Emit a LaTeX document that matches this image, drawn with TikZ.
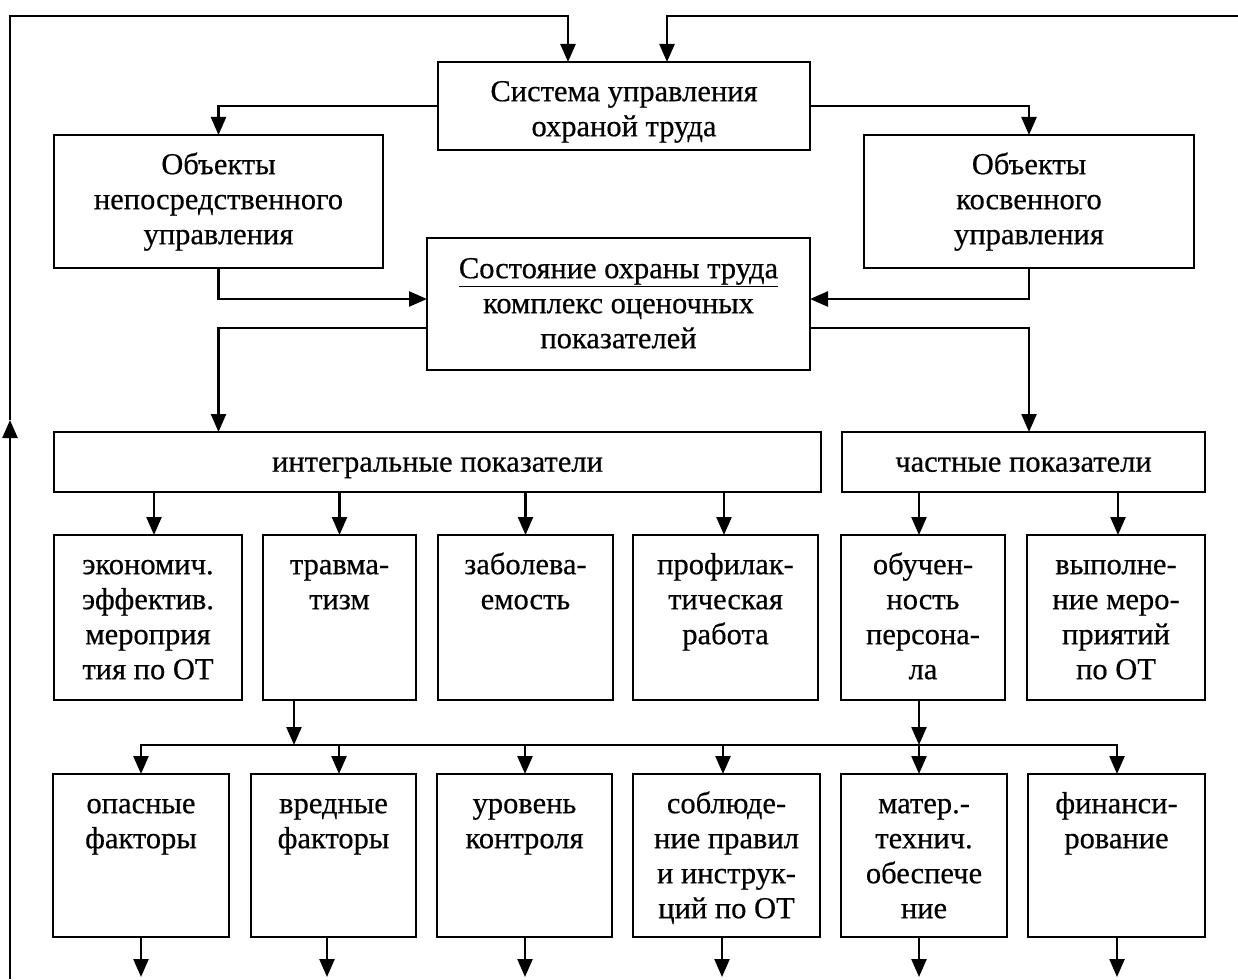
\documentclass[tikz,border=0pt]{standalone}
\usepackage{fontspec}
\setmainfont{Liberation Serif}[FakeBold=0.5]
\usetikzlibrary{arrows.meta,calc}
\begin{document}
\begin{tikzpicture}[x=1pt,y=-1pt,line width=2.4pt,
  box/.style={draw,line width=2.4pt,inner sep=0pt,outer sep=0pt},
  lbl/.style={inner sep=0pt,anchor=north,align=center,font=\fontsize{30.5}{35}\selectfont},
  arr/.style={-{Triangle[width=15pt,length=18pt]},line width=2.4pt},
  arrtwo/.style={{Triangle[width=15pt,length=18pt]}-{Triangle[width=15pt,length=18pt]},line width=2.4pt}]
\useasboundingbox (0,0) rectangle (1238,979);
% top level
\node[box,minimum width=372pt,minimum height=88pt] (sys) at (624,106) {};
\node[box,minimum width=329pt,minimum height=133pt] (objL) at (218.5,201.5) {};
\node[box,minimum width=330pt,minimum height=133pt] (objR) at (1029,201.5) {};
\node[box,minimum width=383pt,minimum height=132pt] (sost) at (618.5,304) {};
\node[box,minimum width=767pt,minimum height=60pt] (integ) at (437.5,462) {};
\node[box,minimum width=363pt,minimum height=60pt] (chast) at (1023.5,462) {};
\node[lbl] (tsys) at ([yshift=-13.5pt]sys.north) {\strut Система управления\\охраной труда};
\node[lbl] (tobjL) at ([yshift=-13.5pt]objL.north) {\strut Объекты\\непосредственного\\управления};
\node[lbl] (tobjR) at ([yshift=-13.5pt]objR.north) {\strut Объекты\\косвенного\\управления};
\node[lbl] (tsost) at ([yshift=-14.5pt]sost.north) {\strut\underline{Состояние охраны труда}\\комплекс оценочных\\показателей};
\node[lbl] (tinteg) at ([yshift=-14pt]integ.north) {\strut интегральные показатели};
\node[lbl] (tchast) at ([yshift=-14pt]chast.north) {\strut частные показатели};
% row 2
\node[box,minimum width=188pt,minimum height=165pt] (econ) at (148,617.5) {};
\node[box,minimum width=153pt,minimum height=165pt] (trav) at (339.5,617.5) {};
\node[box,minimum width=175pt,minimum height=165pt] (zab) at (525.5,617.5) {};
\node[box,minimum width=185pt,minimum height=165pt] (prof) at (725.5,617.5) {};
\node[box,minimum width=164pt,minimum height=165pt] (obuch) at (923,617.5) {};
\node[box,minimum width=178pt,minimum height=165pt] (vyp) at (1116,617.5) {};
\node[lbl] (tecon) at ([yshift=-13.5pt]econ.north) {\strut экономич.\\эффектив.\\мероприя\\тия по ОТ};
\node[lbl] (ttrav) at ([yshift=-13.5pt]trav.north) {\strut травма-\\тизм};
\node[lbl] (tzab) at ([yshift=-13.5pt]zab.north) {\strut заболева-\\емость};
\node[lbl] (tprof) at ([yshift=-13.5pt]prof.north) {\strut профилак-\\тическая\\работа};
\node[lbl] (tobuch) at ([yshift=-13.5pt]obuch.north) {\strut обучен-\\ность\\персона-\\ла};
\node[lbl] (tvyp) at ([yshift=-13.5pt]vyp.north) {\strut выполне-\\ние меро-\\приятий\\по ОТ};
% row 3
\node[box,minimum width=176pt,minimum height=163pt] (opas) at (141,855.5) {};
\node[box,minimum width=165pt,minimum height=163pt] (vred) at (333.5,855.5) {};
\node[box,minimum width=175pt,minimum height=163pt] (urov) at (524.5,855.5) {};
\node[box,minimum width=187pt,minimum height=163pt] (sobl) at (726.5,855.5) {};
\node[box,minimum width=166pt,minimum height=163pt] (mater) at (924,855.5) {};
\node[box,minimum width=177pt,minimum height=163pt] (fin) at (1116.5,855.5) {};
\node[lbl] (topas) at ([yshift=-13.5pt]opas.north) {\strut опасные\\факторы};
\node[lbl] (tvred) at ([yshift=-13.5pt]vred.north) {\strut вредные\\факторы};
\node[lbl] (turov) at ([yshift=-13.5pt]urov.north) {\strut уровень\\контроля};
\node[lbl] (tsobl) at ([yshift=-13.5pt]sobl.north) {\strut соблюде-\\ние правил\\и инструк-\\ций по ОТ};
\node[lbl] (tmater) at ([yshift=-13.5pt]mater.north) {\strut матер.-\\технич.\\обеспече\\ние};
\node[lbl] (tfin) at ([yshift=-13.5pt]fin.north) {\strut финанси-\\рование};
% feedback loop
\coordinate (fbB) at (10,979);
\coordinate (fbM) at (10,420);
\coordinate (fbT) at (10,16);
\coordinate (frR) at (1238,16);
\draw[arr] (fbB) -- (fbM);
\draw[arr] (fbM) -- (fbT) -- ([xshift=-56pt]sys.north |- fbT) -- ([xshift=-56pt]sys.north);
\draw[arr] (frR) -- ([xshift=43pt]sys.north |- frR) -- ([xshift=43pt]sys.north);
% top connectors
\draw[arr] (sys.west) -| (objL.north);
\draw[arr] (sys.east) -| (objR.north);
\draw[arr] (objL.south) |- ([yshift=5pt]sost.west);
\draw[arr] (objR.south) |- ([yshift=5pt]sost.east);
\draw[arr] ([yshift=-24pt]sost.west) -| (integ.north -| objL.south);
\draw[arr] ([yshift=-24pt]sost.east) -| (chast.north -| objR.south);
% to row 2
\draw[arr] ([xshift=6pt]econ.north |- integ.south) -- ([xshift=6pt]econ.north);
\draw[arr] (trav.north |- integ.south) -- (trav.north);
\draw[arr] (zab.north |- integ.south) -- (zab.north);
\draw[arr] ([xshift=-1.5pt]prof.north |- integ.south) -- ([xshift=-1.5pt]prof.north);
\draw[arr] ([xshift=-4pt]obuch.north |- chast.south) -- ([xshift=-4pt]obuch.north);
\draw[arr] ([xshift=2pt]vyp.north |- chast.south) -- ([xshift=2pt]vyp.north);
% bus
\coordinate (bus) at (0,745);
\draw[arr] ([xshift=-45.5pt]trav.south) -- ([xshift=-45.5pt]trav.south |- bus);
\draw[arr] ([xshift=-4pt]obuch.south) -- ([xshift=-4pt]obuch.south |- bus);
\draw[arrtwo] (opas.north) -- (opas.north |- bus) -- ([xshift=0.5pt]fin.north |- bus) -- ([xshift=0.5pt]fin.north);
\draw[arr] ([xshift=5.5pt]vred.north |- bus) -- ([xshift=5.5pt]vred.north);
\draw[arr] ([xshift=0.5pt]urov.north |- bus) -- ([xshift=0.5pt]urov.north);
\draw[arr] ([xshift=-3.5pt]sobl.north |- bus) -- ([xshift=-3.5pt]sobl.north);
\draw[arr] ([xshift=-5pt]mater.north |- bus) -- ([xshift=-5pt]mater.north);
% bottom outputs
\coordinate (bot) at (0,977);
\draw[arr] (opas.south) -- (opas.south |- bot);
\draw[arr] ([xshift=-6.5pt]vred.south) -- ([xshift=-6.5pt]vred.south |- bot);
\draw[arr] ([xshift=0.5pt]urov.south) -- ([xshift=0.5pt]urov.south |- bot);
\draw[arr] ([xshift=-4.5pt]sobl.south) -- ([xshift=-4.5pt]sobl.south |- bot);
\draw[arr] ([xshift=-5pt]mater.south) -- ([xshift=-5pt]mater.south |- bot);
\draw[arr] ([xshift=0.5pt]fin.south) -- ([xshift=0.5pt]fin.south |- bot);
\end{tikzpicture}
\end{document}
